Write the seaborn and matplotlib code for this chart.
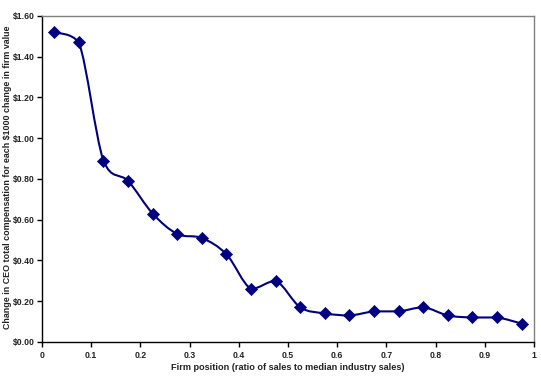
import numpy as np
import pandas as pd
import seaborn as sns
import matplotlib.pyplot as plt
from matplotlib.path import Path
from matplotlib.patches import PathPatch
from matplotlib.ticker import FuncFormatter, MultipleLocator

firmPosition = [0.025, 0.075, 0.125, 0.175, 0.225, 0.275, 0.325, 0.375, 0.425, 0.475,
                0.525, 0.575, 0.625, 0.675, 0.725, 0.775, 0.825, 0.875, 0.925, 0.975]
compChange = [1.52, 1.47, 0.89, 0.79, 0.63, 0.53, 0.51, 0.43, 0.26, 0.30,
              0.17, 0.14, 0.13, 0.15, 0.15, 0.17, 0.13, 0.12, 0.12, 0.09]

xLabel = "Firm position (ratio of sales to median industry sales)"
yLabel = "Change in CEO total compensation for each \\$1000 change in firm value"

lineColor = "#000080"


def smoothPath(xs, ys, xScale, yScale):
    # Excel-style smoothed line: cubic Bezier segments through the data points,
    # tangents in screen proportions, control heights kept inside each segment
    pts = np.column_stack([np.asarray(xs) * xScale, np.asarray(ys) * yScale])
    verts = [pts[0]]
    codes = [Path.MOVETO]
    n = len(pts)
    for i in range(n - 1):
        p0 = pts[i - 1] if i > 0 else pts[i]
        p1 = pts[i]
        p2 = pts[i + 1]
        p3 = pts[i + 2] if i + 2 < n else pts[i + 1]
        c1 = p1 + (p2 - p0) / 6.0
        c2 = p2 - (p3 - p1) / 6.0
        lo, hi = min(p1[1], p2[1]), max(p1[1], p2[1])
        c1[1] = np.clip(c1[1], lo, hi)
        c2[1] = np.clip(c2[1], lo, hi)
        verts += [c1, c2, p2]
        codes += [Path.CURVE4] * 3
    verts = np.array(verts) / np.array([xScale, yScale])
    return Path(verts, codes)


sns.set_theme(style="white")
plt.rcParams["font.family"] = ["Liberation Sans", "DejaVu Sans"]

dataFrame = pd.DataFrame({"position": firmPosition, "change": compChange})

fig = plt.figure(figsize=(5.41, 3.77), dpi=100)
ax = fig.add_axes([0.0776, 0.093, 0.9094, 0.8646])

# pixels per data unit, for the smoothing
xPix = 492 / 1.0
yPix = 326 / 1.6

ax.add_patch(PathPatch(smoothPath(firmPosition, compChange, xPix, yPix),
                       facecolor="none", edgecolor=lineColor, linewidth=1.5, zorder=2))
sns.scatterplot(data=dataFrame, x="position", y="change", marker="D", s=38,
                color=lineColor, edgecolor=lineColor, linewidth=0.5, ax=ax, zorder=3)

ax.set_xlim(0, 1)
ax.set_ylim(0, 1.6)
ax.xaxis.set_major_locator(MultipleLocator(0.1))
ax.yaxis.set_major_locator(MultipleLocator(0.2))
ax.xaxis.set_major_formatter(FuncFormatter(lambda v, p: "0" if abs(v) < 1e-9 else ("1" if abs(v - 1) < 1e-9 else f"{v:.1f}")))
ax.yaxis.set_major_formatter(FuncFormatter(lambda v, p: f"\\${v:.2f}"))

ax.tick_params(axis="both", which="major", direction="out", length=3.5, width=1,
               color="black", labelsize=6.2, pad=1.5, left=True, bottom=True)
ax.tick_params(axis="x", pad=3)
for lbl in ax.get_xticklabels() + ax.get_yticklabels():
    lbl.set_fontweight("bold")
    lbl.set_color("#222222")

for side in ["left", "bottom"]:
    ax.spines[side].set_color("black")
    ax.spines[side].set_linewidth(1.0)
for side in ["top", "right"]:
    ax.spines[side].set_color("#808080")
    ax.spines[side].set_linewidth(1.0)

ax.set_xlabel(xLabel, fontsize=6.6, fontweight="bold", color="#222222")
ax.set_ylabel(yLabel, fontsize=6.4, fontweight="bold", color="#222222")
ax.xaxis.set_label_coords(0.5, -0.066)
ax.yaxis.set_label_coords(-0.06, 0.506)

fig.savefig("out.png", dpi=100, facecolor="white")
